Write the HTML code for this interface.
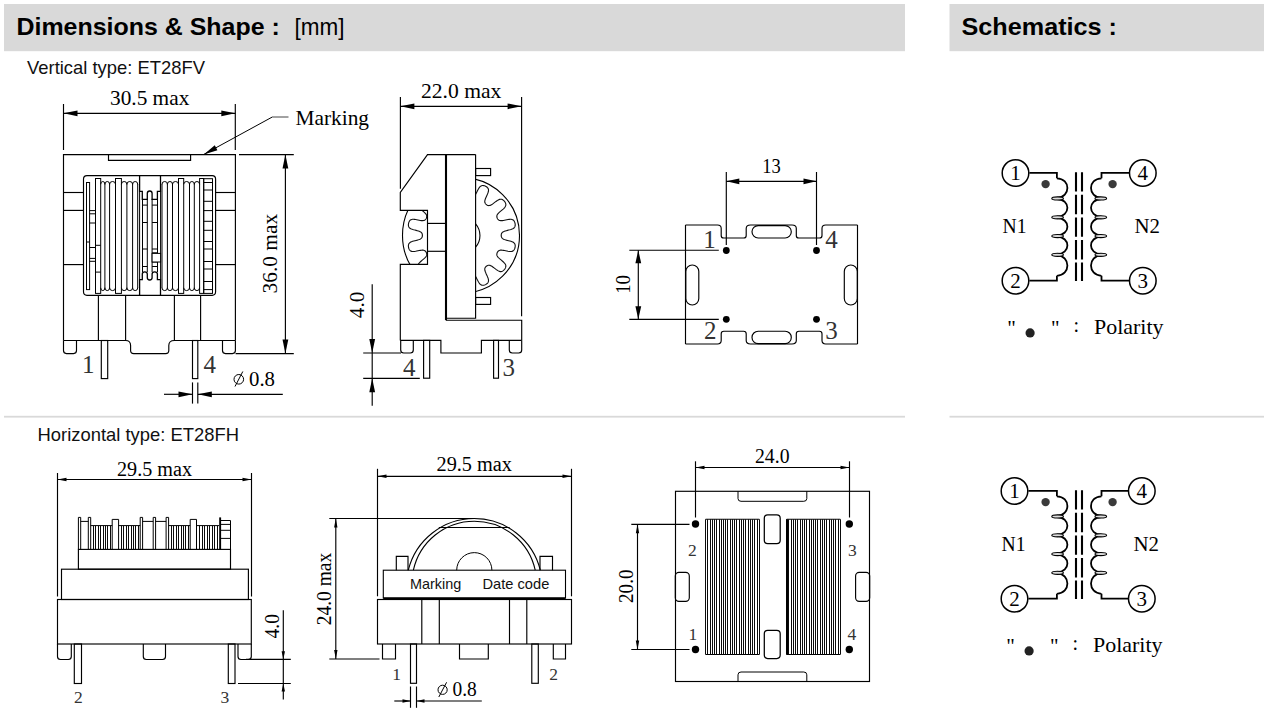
<!DOCTYPE html>
<html><head><meta charset="utf-8"><title>Dimensions</title>
<style>
html,body{margin:0;padding:0;background:#fff;}
body{width:1267px;height:712px;overflow:hidden;position:relative;font-family:"Liberation Sans",sans-serif;}
svg{position:absolute;left:0;top:0;display:block;}
</style></head><body>
<svg width="1267" height="712" viewBox="0 0 1267 712">
<rect x="4" y="4" width="901" height="47.2" fill="#d9d9d9"/>
<rect x="949.5" y="4" width="314.5" height="47.2" fill="#d9d9d9"/>
<rect x="4" y="415.8" width="901" height="1.8" fill="#d9d9d9"/>
<rect x="949.5" y="415.8" width="314.5" height="1.8" fill="#d9d9d9"/>
<text x="16.5" y="34.5" font-family="Liberation Sans, serif" font-size="24.5" font-weight="bold" text-anchor="start" fill="#000" textLength="263.3" lengthAdjust="spacingAndGlyphs" >Dimensions &amp; Shape :</text>
<text x="294.6" y="34.5" font-family="Liberation Sans, serif" font-size="24.5" font-weight="normal" text-anchor="start" fill="#000" textLength="50" lengthAdjust="spacingAndGlyphs" >[mm]</text>
<text x="961.5" y="34.5" font-family="Liberation Sans, serif" font-size="24.5" font-weight="bold" text-anchor="start" fill="#000" textLength="155.5" lengthAdjust="spacingAndGlyphs" >Schematics :</text>
<text x="27" y="74.2" font-family="Liberation Sans, serif" font-size="18.2" font-weight="normal" text-anchor="start" fill="#111" textLength="178" lengthAdjust="spacingAndGlyphs" >Vertical type: ET28FV</text>
<text x="37.5" y="441.2" font-family="Liberation Sans, serif" font-size="18.2" font-weight="normal" text-anchor="start" fill="#111" textLength="201.5" lengthAdjust="spacingAndGlyphs" >Horizontal type: ET28FH</text>
<path d="M63.5,340.5 V154.6 H235.4 V340.5" stroke="#000" stroke-width="1.15" fill="none" />
<path d="M63.5,340.5 V350.6 Q63.5,353.6 66.5,353.6 H73.5 Q76.5,353.6 76.5,350.6 V340.5" stroke="#000" stroke-width="1.15" fill="none" />
<path d="M222.5,340.5 V350.6 Q222.5,353.6 225.5,353.6 H232.4 Q235.4,353.6 235.4,350.6 V340.5" stroke="#000" stroke-width="1.15" fill="none" />
<path d="M63.5,340.5 H125.6 Q130.6,340.5 130.6,345.5 V350.5 Q130.6,353.6 133.8,353.6 H165.6 Q168.8,353.6 168.8,350.5 V345.5 Q168.8,340.5 174.4,340.5 H235.4" stroke="#000" stroke-width="1.15" fill="none" />
<path d="M108.5,154.6 V160.3 H190.6 V154.6" stroke="#000" stroke-width="1.15" fill="none" />
<rect x="83.5" y="175.6" width="132.1" height="119.7" rx="3.5" stroke="#000" stroke-width="1.15" fill="none"/>
<line x1="63.5" y1="192.5" x2="83.5" y2="192.5" stroke="#000" stroke-width="1.15" />
<line x1="215.6" y1="192.5" x2="235.4" y2="192.5" stroke="#000" stroke-width="1.15" />
<line x1="63.5" y1="210.4" x2="83.5" y2="210.4" stroke="#000" stroke-width="1.15" />
<line x1="215.6" y1="210.4" x2="235.4" y2="210.4" stroke="#000" stroke-width="1.15" />
<line x1="63.5" y1="264.6" x2="83.5" y2="264.6" stroke="#000" stroke-width="1.15" />
<line x1="215.6" y1="264.6" x2="235.4" y2="264.6" stroke="#000" stroke-width="1.15" />
<line x1="98.4" y1="295.3" x2="98.4" y2="340.5" stroke="#000" stroke-width="1.15" />
<line x1="125.6" y1="295.3" x2="125.6" y2="340.5" stroke="#000" stroke-width="1.15" />
<line x1="174.4" y1="295.3" x2="174.4" y2="340.5" stroke="#000" stroke-width="1.15" />
<line x1="200.6" y1="295.3" x2="200.6" y2="340.5" stroke="#000" stroke-width="1.15" />
<rect x="101.3" y="340.5" width="6.4" height="38.1" rx="0" stroke="#000" stroke-width="1.15" fill="none"/>
<rect x="192.5" y="340.5" width="5.3" height="38.1" rx="0" stroke="#000" stroke-width="1.15" fill="none"/>
<rect x="86.5" y="182.5" width="3.1" height="107.1" rx="0" stroke="#000" stroke-width="1.0" fill="none"/>
<line x1="86.5" y1="242" x2="89.6" y2="242" stroke="#000" stroke-width="1.0" />
<line x1="89.6" y1="210.6" x2="95.5" y2="210.6" stroke="#000" stroke-width="1.0" />
<line x1="89.6" y1="213.8" x2="95.5" y2="213.8" stroke="#000" stroke-width="1.0" />
<line x1="89.6" y1="223" x2="95.5" y2="223" stroke="#000" stroke-width="1.0" />
<line x1="89.6" y1="247.5" x2="95.5" y2="247.5" stroke="#000" stroke-width="1.0" />
<line x1="89.6" y1="258.4" x2="95.5" y2="258.4" stroke="#000" stroke-width="1.0" />
<line x1="89.6" y1="261.3" x2="95.5" y2="261.3" stroke="#000" stroke-width="1.0" />
<rect x="95.5" y="178.5" width="5.2" height="114.9" rx="0" stroke="#000" stroke-width="1.0" fill="none"/>
<rect x="115.5" y="178.5" width="5.9" height="114.9" rx="0" stroke="#000" stroke-width="1.0" fill="none"/>
<rect x="178.5" y="178.5" width="5.2" height="114.9" rx="0" stroke="#000" stroke-width="1.0" fill="none"/>
<line x1="95.5" y1="245.3" x2="100.7" y2="245.3" stroke="#000" stroke-width="1.0" />
<line x1="95.5" y1="272.1" x2="100.7" y2="272.1" stroke="#000" stroke-width="1.0" />
<rect x="199.6" y="178.5" width="4.1" height="114.9" rx="0" stroke="#000" stroke-width="1.0" fill="none"/>
<rect x="203.7" y="178.7" width="8.8" height="114.7" rx="0" stroke="#000" stroke-width="1.0" fill="none"/>
<line x1="203.7" y1="182.5" x2="212.5" y2="182.5" stroke="#000" stroke-width="1.0" />
<line x1="203.7" y1="190" x2="212.5" y2="190" stroke="#000" stroke-width="1.0" />
<line x1="203.7" y1="201.3" x2="212.5" y2="201.3" stroke="#000" stroke-width="1.0" />
<line x1="203.7" y1="210.6" x2="212.5" y2="210.6" stroke="#000" stroke-width="1.0" />
<line x1="203.7" y1="221.3" x2="212.5" y2="221.3" stroke="#000" stroke-width="1.0" />
<line x1="203.7" y1="230.3" x2="212.5" y2="230.3" stroke="#000" stroke-width="1.0" />
<line x1="203.7" y1="241.5" x2="212.5" y2="241.5" stroke="#000" stroke-width="1.0" />
<line x1="203.7" y1="249" x2="212.5" y2="249" stroke="#000" stroke-width="1.0" />
<line x1="203.7" y1="261.5" x2="212.5" y2="261.5" stroke="#000" stroke-width="1.0" />
<line x1="203.7" y1="269" x2="212.5" y2="269" stroke="#000" stroke-width="1.0" />
<line x1="203.7" y1="281.5" x2="212.5" y2="281.5" stroke="#000" stroke-width="1.0" />
<line x1="203.7" y1="289.6" x2="212.5" y2="289.6" stroke="#000" stroke-width="1.0" />
<path d="M100.7,184.3 Q100.7,181.5 102.80000000000001,181.5 Q104.9,181.5 104.9,184.3" stroke="#000" stroke-width="1.0" fill="none" />
<path d="M100.7,287.8 Q100.7,290.6 102.80000000000001,290.6 Q104.9,290.6 104.9,287.8" stroke="#000" stroke-width="1.0" fill="none" />
<path d="M104.9,184.3 Q104.9,181.5 107.25,181.5 Q109.6,181.5 109.6,184.3" stroke="#000" stroke-width="1.0" fill="none" />
<path d="M104.9,287.8 Q104.9,290.6 107.25,290.6 Q109.6,290.6 109.6,287.8" stroke="#000" stroke-width="1.0" fill="none" />
<path d="M109.6,184.3 Q109.6,181.5 112.55,181.5 Q115.5,181.5 115.5,184.3" stroke="#000" stroke-width="1.0" fill="none" />
<path d="M109.6,287.8 Q109.6,290.6 112.55,290.6 Q115.5,290.6 115.5,287.8" stroke="#000" stroke-width="1.0" fill="none" />
<line x1="104.9" y1="183.8" x2="104.9" y2="288.3" stroke="#000" stroke-width="1.0" />
<line x1="109.6" y1="183.8" x2="109.6" y2="288.3" stroke="#000" stroke-width="1.0" />
<path d="M121.4,184.3 Q121.4,181.5 124.15,181.5 Q126.9,181.5 126.9,184.3" stroke="#000" stroke-width="1.0" fill="none" />
<path d="M121.4,287.8 Q121.4,290.6 124.15,290.6 Q126.9,290.6 126.9,287.8" stroke="#000" stroke-width="1.0" fill="none" />
<path d="M126.9,184.3 Q126.9,181.5 129.75,181.5 Q132.6,181.5 132.6,184.3" stroke="#000" stroke-width="1.0" fill="none" />
<path d="M126.9,287.8 Q126.9,290.6 129.75,290.6 Q132.6,290.6 132.6,287.8" stroke="#000" stroke-width="1.0" fill="none" />
<path d="M132.6,184.3 Q132.6,181.5 135.14999999999998,181.5 Q137.7,181.5 137.7,184.3" stroke="#000" stroke-width="1.0" fill="none" />
<path d="M132.6,287.8 Q132.6,290.6 135.14999999999998,290.6 Q137.7,290.6 137.7,287.8" stroke="#000" stroke-width="1.0" fill="none" />
<line x1="126.9" y1="183.8" x2="126.9" y2="288.3" stroke="#000" stroke-width="1.0" />
<line x1="132.6" y1="183.8" x2="132.6" y2="288.3" stroke="#000" stroke-width="1.0" />
<line x1="137.7" y1="184" x2="137.7" y2="288" stroke="#000" stroke-width="1.0" />
<path d="M162,184.3 Q162,181.5 164.7,181.5 Q167.4,181.5 167.4,184.3" stroke="#000" stroke-width="1.0" fill="none" />
<path d="M162,287.8 Q162,290.6 164.7,290.6 Q167.4,290.6 167.4,287.8" stroke="#000" stroke-width="1.0" fill="none" />
<path d="M167.4,184.3 Q167.4,181.5 169.95,181.5 Q172.5,181.5 172.5,184.3" stroke="#000" stroke-width="1.0" fill="none" />
<path d="M167.4,287.8 Q167.4,290.6 169.95,290.6 Q172.5,290.6 172.5,287.8" stroke="#000" stroke-width="1.0" fill="none" />
<path d="M172.5,184.3 Q172.5,181.5 175.5,181.5 Q178.5,181.5 178.5,184.3" stroke="#000" stroke-width="1.0" fill="none" />
<path d="M172.5,287.8 Q172.5,290.6 175.5,290.6 Q178.5,290.6 178.5,287.8" stroke="#000" stroke-width="1.0" fill="none" />
<line x1="167.4" y1="183.8" x2="167.4" y2="288.3" stroke="#000" stroke-width="1.0" />
<line x1="172.5" y1="183.8" x2="172.5" y2="288.3" stroke="#000" stroke-width="1.0" />
<line x1="162" y1="184" x2="162" y2="288" stroke="#000" stroke-width="1.0" />
<path d="M183.7,184.3 Q183.7,181.5 186.6,181.5 Q189.5,181.5 189.5,184.3" stroke="#000" stroke-width="1.0" fill="none" />
<path d="M183.7,287.8 Q183.7,290.6 186.6,290.6 Q189.5,290.6 189.5,287.8" stroke="#000" stroke-width="1.0" fill="none" />
<path d="M189.5,184.3 Q189.5,181.5 191.9,181.5 Q194.3,181.5 194.3,184.3" stroke="#000" stroke-width="1.0" fill="none" />
<path d="M189.5,287.8 Q189.5,290.6 191.9,290.6 Q194.3,290.6 194.3,287.8" stroke="#000" stroke-width="1.0" fill="none" />
<path d="M194.3,184.3 Q194.3,181.5 196.95,181.5 Q199.6,181.5 199.6,184.3" stroke="#000" stroke-width="1.0" fill="none" />
<path d="M194.3,287.8 Q194.3,290.6 196.95,290.6 Q199.6,290.6 199.6,287.8" stroke="#000" stroke-width="1.0" fill="none" />
<line x1="189.5" y1="183.8" x2="189.5" y2="288.3" stroke="#000" stroke-width="1.0" />
<line x1="194.3" y1="183.8" x2="194.3" y2="288.3" stroke="#000" stroke-width="1.0" />
<path d="M139.6,175.6 V191.3 H142.3 V199.4 H147.3 V193.5 Q147.3,191 149.7,191 Q152.1,191 152.1,193.5 V199.4 H157.4 V191.3 H160.5 V175.6" stroke="#000" stroke-width="1.3" fill="none" />
<path d="M139.6,295.3 V279.6 H142.3 V274 Q142.3,271.8 144.8,271.8 Q147.3,271.8 147.3,274 V277.5 Q147.3,280 149.7,280 Q152.1,280 152.1,277.5 V274 Q152.1,271.8 154.7,271.8 Q157.4,271.8 157.4,274 V279.6 H160.5 V295.3" stroke="#000" stroke-width="1.3" fill="none" />
<line x1="142.5" y1="198.8" x2="142.5" y2="272" stroke="#000" stroke-width="1.0" />
<line x1="147.3" y1="198.8" x2="147.3" y2="272" stroke="#000" stroke-width="1.0" />
<line x1="152.1" y1="198.8" x2="152.1" y2="272" stroke="#000" stroke-width="1.0" />
<line x1="157.5" y1="198.8" x2="157.5" y2="272" stroke="#000" stroke-width="1.0" />
<line x1="139.6" y1="191.3" x2="139.6" y2="279.6" stroke="#000" stroke-width="1.0" />
<line x1="160.6" y1="191.3" x2="160.6" y2="279.6" stroke="#000" stroke-width="1.0" />
<line x1="142.5" y1="205.1" x2="147.3" y2="205.1" stroke="#000" stroke-width="1.0" />
<line x1="142.5" y1="222.5" x2="147.3" y2="222.5" stroke="#000" stroke-width="1.0" />
<line x1="142.5" y1="249" x2="147.3" y2="249" stroke="#000" stroke-width="1.0" />
<line x1="142.5" y1="266.5" x2="147.3" y2="266.5" stroke="#000" stroke-width="1.0" />
<line x1="152.1" y1="205.1" x2="157.5" y2="205.1" stroke="#000" stroke-width="1.0" />
<line x1="152.1" y1="222.5" x2="157.5" y2="222.5" stroke="#000" stroke-width="1.0" />
<line x1="152.1" y1="249" x2="157.5" y2="249" stroke="#000" stroke-width="1.0" />
<line x1="152.1" y1="252.8" x2="157.5" y2="252.8" stroke="#000" stroke-width="1.0" />
<line x1="152.1" y1="262" x2="157.5" y2="262" stroke="#000" stroke-width="1.0" />
<line x1="152.1" y1="266.5" x2="157.5" y2="266.5" stroke="#000" stroke-width="1.0" />
<rect x="152.1" y="253.4" width="8.5" height="8.6" rx="0" stroke="#000" stroke-width="1.0" fill="#fff"/>
<line x1="63.5" y1="104" x2="63.5" y2="150" stroke="#000" stroke-width="1.15" />
<line x1="235.3" y1="104" x2="235.3" y2="150" stroke="#000" stroke-width="1.15" />
<line x1="63.5" y1="113.3" x2="235.3" y2="113.3" stroke="#000" stroke-width="1.15" />
<polygon points="63.5,113.3 77.5,110.4 77.5,116.2" fill="#000"/>
<polygon points="235.3,113.3 221.3,110.4 221.3,116.2" fill="#000"/>
<text x="110" y="104.5" font-family="Liberation Serif, serif" font-size="21" font-weight="normal" text-anchor="start" fill="#000" textLength="79.3" lengthAdjust="spacingAndGlyphs" >30.5 max</text>
<line x1="272.3" y1="117" x2="288.5" y2="117" stroke="#444" stroke-width="1" />
<line x1="272.3" y1="117" x2="203.8" y2="154.4" stroke="#000" stroke-width="1" />
<polygon points="203.8,154.4 214.8,145.2 217.4,150.2" fill="#000"/>
<text x="295.5" y="125.4" font-family="Liberation Serif, serif" font-size="21" font-weight="normal" text-anchor="start" fill="#000" textLength="73.5" lengthAdjust="spacingAndGlyphs" >Marking</text>
<line x1="239" y1="154.6" x2="293.8" y2="154.6" stroke="#000" stroke-width="1.15" />
<line x1="235.6" y1="353.6" x2="293.8" y2="353.6" stroke="#000" stroke-width="1.15" />
<line x1="285.4" y1="154.6" x2="285.4" y2="353.6" stroke="#000" stroke-width="1.15" />
<polygon points="285.4,154.6 282.5,168.6 288.3,168.6" fill="#000"/>
<polygon points="285.4,353.6 282.5,339.6 288.3,339.6" fill="#000"/>
<text x="277" y="293.4" font-family="Liberation Serif, serif" font-size="21" font-weight="normal" text-anchor="start" fill="#000" textLength="79.5" lengthAdjust="spacingAndGlyphs" transform="rotate(-90 277 293.4)" >36.0 max</text>
<text x="82" y="373" font-family="Liberation Serif, serif" font-size="25" font-weight="normal" text-anchor="start" fill="#333" >1</text>
<text x="203.5" y="373" font-family="Liberation Serif, serif" font-size="25" font-weight="normal" text-anchor="start" fill="#333" >4</text>
<line x1="192.5" y1="382.4" x2="192.5" y2="403.6" stroke="#000" stroke-width="1.15" />
<line x1="197.8" y1="382.4" x2="197.8" y2="403.6" stroke="#000" stroke-width="1.15" />
<line x1="164" y1="394.3" x2="192.5" y2="394.3" stroke="#000" stroke-width="1.15" />
<line x1="197.8" y1="394.3" x2="282.8" y2="394.3" stroke="#000" stroke-width="1.15" />
<polygon points="192.5,394.3 178.5,391.4 178.5,397.2" fill="#000"/>
<polygon points="197.8,394.3 211.8,391.4 211.8,397.2" fill="#000"/>
<circle cx="238.8" cy="379.3" r="4.8" fill="none" stroke="#000" stroke-width="1"/>
<line x1="235" y1="386.5" x2="242.8" y2="371.5" stroke="#000" stroke-width="1" />
<text x="249" y="385.8" font-family="Liberation Serif, serif" font-size="21" font-weight="normal" text-anchor="start" fill="#000" textLength="26" lengthAdjust="spacingAndGlyphs" >0.8</text>
<defs><clipPath id="cR"><rect x="475.6" y="150" width="60" height="170"/></clipPath><clipPath id="cL"><rect x="395" y="210.4" width="32.5" height="54"/></clipPath></defs>
<g clip-path="url(#cR)"><circle cx="461.8" cy="235.4" r="57.7" fill="none" stroke="#000" stroke-width="1.1"/><path d="M501.20,235.40 L501.23,235.95 L501.31,236.49 L501.46,237.01 L501.68,237.50 L501.99,237.97 L502.39,238.40 L502.92,238.79 L503.57,239.16 L504.36,239.49 L505.29,239.81 L506.34,240.11 L507.49,240.41 L508.67,240.71 L509.85,241.01 L510.97,241.34 L511.98,241.69 L512.86,242.08 L513.58,242.52 L514.16,243.02 L514.61,243.57 L514.92,244.17 L515.11,244.83 L515.21,245.53 L515.21,246.27 L515.13,247.02 L514.98,247.76 L514.76,248.48 L514.46,249.17 L514.10,249.79 L513.67,250.34 L513.16,250.79 L512.57,251.14 L511.88,251.38 L511.08,251.51 L510.17,251.53 L509.14,251.45 L508.03,251.28 L506.85,251.06 L505.65,250.82 L504.47,250.58 L503.35,250.37 L502.33,250.22 L501.42,250.15 L500.62,250.15 L499.94,250.25 L499.35,250.42 L498.84,250.68 L498.40,251.00 L498.02,251.38 L497.69,251.82 L497.40,252.28 L497.17,252.78 L496.99,253.30 L496.87,253.83 L496.82,254.36 L496.85,254.91 L496.98,255.47 L497.23,256.04 L497.60,256.64 L498.11,257.27 L498.76,257.94 L499.53,258.65 L500.40,259.40 L501.33,260.18 L502.27,260.97 L503.16,261.75 L503.97,262.52 L504.65,263.26 L505.18,263.98 L505.56,264.69 L505.78,265.38 L505.86,266.06 L505.80,266.74 L505.63,267.42 L505.35,268.08 L504.99,268.74 L504.56,269.36 L504.06,269.94 L503.52,270.45 L502.94,270.90 L502.33,271.25 L501.68,271.49 L501.01,271.60 L500.30,271.58 L499.55,271.41 L498.74,271.10 L497.88,270.64 L496.97,270.05 L496.01,269.37 L495.03,268.63 L494.06,267.89 L493.13,267.19 L492.24,266.57 L491.42,266.06 L490.68,265.67 L489.99,265.40 L489.36,265.25 L488.78,265.22 L488.23,265.28 L487.71,265.43 L487.22,265.65 L486.75,265.93 L486.30,266.25 L485.90,266.62 L485.54,267.03 L485.23,267.48 L484.99,267.96 L484.83,268.50 L484.76,269.09 L484.79,269.76 L484.93,270.51 L485.18,271.35 L485.52,272.29 L485.95,273.31 L486.44,274.40 L486.95,275.52 L487.44,276.63 L487.87,277.69 L488.21,278.69 L488.43,279.61 L488.52,280.44 L488.48,281.19 L488.31,281.87 L488.01,282.48 L487.60,283.04 L487.10,283.54 L486.52,284.00 L485.88,284.39 L485.19,284.73 L484.48,284.99 L483.77,285.18 L483.06,285.27 L482.37,285.26 L481.70,285.13 L481.06,284.86 L480.44,284.45 L479.84,283.88 L479.26,283.16 L478.69,282.29 L478.13,281.30 L477.56,280.23 L477.01,279.14 L476.46,278.07 L475.93,277.08 L475.41,276.21 L474.90,275.47 L474.40,274.87 L473.90,274.42 L473.39,274.08 L472.87,273.86 L472.35,273.73 L471.81,273.68 L471.26,273.70 L470.72,273.78 L470.19,273.91 L469.67,274.10 L469.19,274.34 L468.74,274.65 L468.34,275.03 L468.00,275.49 L467.71,276.06 L467.49,276.74 L467.32,277.55 L467.20,278.49 L467.13,279.55 L467.09,280.71 L467.07,281.93 L467.03,283.15 L466.98,284.33 L466.87,285.43 L466.71,286.41 L466.46,287.25 L466.14,287.97 L465.72,288.55 L465.22,289.02 L464.65,289.39 L464.00,289.66 L463.30,289.85 L462.56,289.96 L461.80,290.00 L461.04,289.96 L460.30,289.85 L459.60,289.66 L458.95,289.39 L458.38,289.02 L457.88,288.55 L457.46,287.97 L457.14,287.25 L456.89,286.41 L456.73,285.43 L456.62,284.33 L456.57,283.15 L456.53,281.93 L456.51,280.71 L456.47,279.55 L456.40,278.49 L456.28,277.55 L456.11,276.74 L455.89,276.06 L455.60,275.49 L455.26,275.03 L454.86,274.65 L454.41,274.34 L453.93,274.10 L453.41,273.91 L452.88,273.78 L452.34,273.70 L451.79,273.68 L451.25,273.73 L450.73,273.86 L450.21,274.08 L449.70,274.42 L449.20,274.87 L448.70,275.47 L448.19,276.21 L447.67,277.08 L447.14,278.07 L446.59,279.14 L446.04,280.23 L445.47,281.30 L444.91,282.29 L444.34,283.16 L443.76,283.88 L443.16,284.45 L442.54,284.86 L441.90,285.13 L441.23,285.26 L440.54,285.27 L439.83,285.18 L439.12,284.99 L438.41,284.73 L437.72,284.39 L437.08,284.00 L436.50,283.54 L436.00,283.04 L435.59,282.48 L435.29,281.87 L435.12,281.19 L435.08,280.44 L435.17,279.61 L435.39,278.69 L435.73,277.69 L436.16,276.63 L436.65,275.52 L437.16,274.40 L437.65,273.31 L438.08,272.29 L438.42,271.35 L438.67,270.51 L438.81,269.76 L438.84,269.09 L438.77,268.50 L438.61,267.96 L438.37,267.48 L438.06,267.03 L437.70,266.62 L437.30,266.25 L436.85,265.93 L436.38,265.65 L435.89,265.43 L435.37,265.28 L434.82,265.22 L434.24,265.25 L433.61,265.40 L432.92,265.67 L432.18,266.06 L431.36,266.57 L430.47,267.19 L429.54,267.89 L428.57,268.63 L427.59,269.37 L426.63,270.05 L425.72,270.64 L424.86,271.10 L424.05,271.41 L423.30,271.58 L422.59,271.60 L421.92,271.49 L421.27,271.25 L420.66,270.90 L420.08,270.45 L419.54,269.94 L419.04,269.36 L418.61,268.74 L418.25,268.08 L417.97,267.42 L417.80,266.74 L417.74,266.06 L417.82,265.38 L418.04,264.69 L418.42,263.98 L418.95,263.26 L419.63,262.52 L420.44,261.75 L421.33,260.97 L422.27,260.18 L423.20,259.40 L424.07,258.65 L424.84,257.94 L425.49,257.27 L426.00,256.64 L426.37,256.04 L426.62,255.47 L426.75,254.91 L426.78,254.36 L426.73,253.83 L426.61,253.30 L426.43,252.78 L426.20,252.28 L425.91,251.82 L425.58,251.38 L425.20,251.00 L424.76,250.68 L424.25,250.42 L423.66,250.25 L422.98,250.15 L422.18,250.15 L421.27,250.22 L420.25,250.37 L419.13,250.58 L417.95,250.82 L416.75,251.06 L415.57,251.28 L414.46,251.45 L413.43,251.53 L412.52,251.51 L411.72,251.38 L411.03,251.14 L410.44,250.79 L409.93,250.34 L409.50,249.79 L409.14,249.17 L408.84,248.48 L408.62,247.76 L408.47,247.02 L408.39,246.27 L408.39,245.53 L408.49,244.83 L408.68,244.17 L408.99,243.57 L409.44,243.02 L410.02,242.52 L410.74,242.08 L411.62,241.69 L412.63,241.34 L413.75,241.01 L414.93,240.71 L416.11,240.41 L417.26,240.11 L418.31,239.81 L419.24,239.49 L420.03,239.16 L420.68,238.79 L421.21,238.40 L421.61,237.97 L421.92,237.50 L422.14,237.01 L422.29,236.49 L422.37,235.95 L422.40,235.40 L422.37,234.85 L422.29,234.31 L422.14,233.79 L421.92,233.30 L421.61,232.83 L421.21,232.40 L420.68,232.01 L420.03,231.64 L419.24,231.31 L418.31,230.99 L417.26,230.69 L416.11,230.39 L414.93,230.09 L413.75,229.79 L412.63,229.46 L411.62,229.11 L410.74,228.72 L410.02,228.28 L409.44,227.78 L408.99,227.23 L408.68,226.63 L408.49,225.97 L408.39,225.27 L408.39,224.53 L408.47,223.78 L408.62,223.04 L408.84,222.32 L409.14,221.63 L409.50,221.01 L409.93,220.46 L410.44,220.01 L411.03,219.66 L411.72,219.42 L412.52,219.29 L413.43,219.27 L414.46,219.35 L415.57,219.52 L416.75,219.74 L417.95,219.98 L419.13,220.22 L420.25,220.43 L421.27,220.58 L422.18,220.65 L422.98,220.65 L423.66,220.55 L424.25,220.38 L424.76,220.12 L425.20,219.80 L425.58,219.42 L425.91,218.98 L426.20,218.52 L426.43,218.02 L426.61,217.50 L426.73,216.97 L426.78,216.44 L426.75,215.89 L426.62,215.33 L426.37,214.76 L426.00,214.16 L425.49,213.53 L424.84,212.86 L424.07,212.15 L423.20,211.40 L422.27,210.62 L421.33,209.83 L420.44,209.05 L419.63,208.28 L418.95,207.54 L418.42,206.82 L418.04,206.11 L417.82,205.42 L417.74,204.74 L417.80,204.06 L417.97,203.38 L418.25,202.72 L418.61,202.06 L419.04,201.44 L419.54,200.86 L420.08,200.35 L420.66,199.90 L421.27,199.55 L421.92,199.31 L422.59,199.20 L423.30,199.22 L424.05,199.39 L424.86,199.70 L425.72,200.16 L426.63,200.75 L427.59,201.43 L428.57,202.17 L429.54,202.91 L430.47,203.61 L431.36,204.23 L432.18,204.74 L432.92,205.13 L433.61,205.40 L434.24,205.55 L434.82,205.58 L435.37,205.52 L435.89,205.37 L436.38,205.15 L436.85,204.87 L437.30,204.55 L437.70,204.18 L438.06,203.77 L438.37,203.32 L438.61,202.84 L438.77,202.30 L438.84,201.71 L438.81,201.04 L438.67,200.29 L438.42,199.45 L438.08,198.51 L437.65,197.49 L437.16,196.40 L436.65,195.28 L436.16,194.17 L435.73,193.11 L435.39,192.11 L435.17,191.19 L435.08,190.36 L435.12,189.61 L435.29,188.93 L435.59,188.32 L436.00,187.76 L436.50,187.26 L437.08,186.80 L437.72,186.41 L438.41,186.07 L439.12,185.81 L439.83,185.62 L440.54,185.53 L441.23,185.54 L441.90,185.67 L442.54,185.94 L443.16,186.35 L443.76,186.92 L444.34,187.64 L444.91,188.51 L445.47,189.50 L446.04,190.57 L446.59,191.66 L447.14,192.73 L447.67,193.72 L448.19,194.59 L448.70,195.33 L449.20,195.93 L449.70,196.38 L450.21,196.72 L450.73,196.94 L451.25,197.07 L451.79,197.12 L452.34,197.10 L452.88,197.02 L453.41,196.89 L453.93,196.70 L454.41,196.46 L454.86,196.15 L455.26,195.77 L455.60,195.31 L455.89,194.74 L456.11,194.06 L456.28,193.25 L456.40,192.31 L456.47,191.25 L456.51,190.09 L456.53,188.87 L456.57,187.65 L456.62,186.47 L456.73,185.37 L456.89,184.39 L457.14,183.55 L457.46,182.83 L457.88,182.25 L458.38,181.78 L458.95,181.41 L459.60,181.14 L460.30,180.95 L461.04,180.84 L461.80,180.80 L462.56,180.84 L463.30,180.95 L464.00,181.14 L464.65,181.41 L465.22,181.78 L465.72,182.25 L466.14,182.83 L466.46,183.55 L466.71,184.39 L466.87,185.37 L466.98,186.47 L467.03,187.65 L467.07,188.87 L467.09,190.09 L467.13,191.25 L467.20,192.31 L467.32,193.25 L467.49,194.06 L467.71,194.74 L468.00,195.31 L468.34,195.77 L468.74,196.15 L469.19,196.46 L469.67,196.70 L470.19,196.89 L470.72,197.02 L471.26,197.10 L471.81,197.12 L472.35,197.07 L472.87,196.94 L473.39,196.72 L473.90,196.38 L474.40,195.93 L474.90,195.33 L475.41,194.59 L475.93,193.72 L476.46,192.73 L477.01,191.66 L477.56,190.57 L478.13,189.50 L478.69,188.51 L479.26,187.64 L479.84,186.92 L480.44,186.35 L481.06,185.94 L481.70,185.67 L482.37,185.54 L483.06,185.53 L483.77,185.62 L484.48,185.81 L485.19,186.07 L485.88,186.41 L486.52,186.80 L487.10,187.26 L487.60,187.76 L488.01,188.32 L488.31,188.93 L488.48,189.61 L488.52,190.36 L488.43,191.19 L488.21,192.11 L487.87,193.11 L487.44,194.17 L486.95,195.28 L486.44,196.40 L485.95,197.49 L485.52,198.51 L485.18,199.45 L484.93,200.29 L484.79,201.04 L484.76,201.71 L484.83,202.30 L484.99,202.84 L485.23,203.32 L485.54,203.77 L485.90,204.18 L486.30,204.55 L486.75,204.87 L487.22,205.15 L487.71,205.37 L488.23,205.52 L488.78,205.58 L489.36,205.55 L489.99,205.40 L490.68,205.13 L491.42,204.74 L492.24,204.23 L493.13,203.61 L494.06,202.91 L495.03,202.17 L496.01,201.43 L496.97,200.75 L497.88,200.16 L498.74,199.70 L499.55,199.39 L500.30,199.22 L501.01,199.20 L501.68,199.31 L502.33,199.55 L502.94,199.90 L503.52,200.35 L504.06,200.86 L504.56,201.44 L504.99,202.06 L505.35,202.72 L505.63,203.38 L505.80,204.06 L505.86,204.74 L505.78,205.42 L505.56,206.11 L505.18,206.82 L504.65,207.54 L503.97,208.28 L503.16,209.05 L502.27,209.83 L501.33,210.62 L500.40,211.40 L499.53,212.15 L498.76,212.86 L498.11,213.53 L497.60,214.16 L497.23,214.76 L496.98,215.33 L496.85,215.89 L496.82,216.44 L496.87,216.97 L496.99,217.50 L497.17,218.02 L497.40,218.52 L497.69,218.98 L498.02,219.42 L498.40,219.80 L498.84,220.12 L499.35,220.38 L499.94,220.55 L500.62,220.65 L501.42,220.65 L502.33,220.58 L503.35,220.43 L504.47,220.22 L505.65,219.98 L506.85,219.74 L508.03,219.52 L509.14,219.35 L510.17,219.27 L511.08,219.29 L511.88,219.42 L512.57,219.66 L513.16,220.01 L513.67,220.46 L514.10,221.01 L514.46,221.63 L514.76,222.32 L514.98,223.04 L515.13,223.78 L515.21,224.53 L515.21,225.27 L515.11,225.97 L514.92,226.63 L514.61,227.23 L514.16,227.78 L513.58,228.28 L512.86,228.72 L511.98,229.11 L510.97,229.46 L509.85,229.79 L508.67,230.09 L507.49,230.39 L506.34,230.69 L505.29,230.99 L504.36,231.31 L503.57,231.64 L502.92,232.01 L502.39,232.40 L501.99,232.83 L501.68,233.30 L501.46,233.79 L501.31,234.31 L501.23,234.85 L501.20,235.40Z" fill="none" stroke="#111" stroke-width="1.1"/></g>
<g clip-path="url(#cL)"><circle cx="461.8" cy="235.4" r="59.300000000000004" fill="none" stroke="#000" stroke-width="1.1"/><path d="M501.20,235.40 L501.23,235.95 L501.31,236.49 L501.46,237.01 L501.68,237.50 L501.99,237.97 L502.39,238.40 L502.92,238.79 L503.57,239.16 L504.36,239.49 L505.29,239.81 L506.34,240.11 L507.49,240.41 L508.67,240.71 L509.85,241.01 L510.97,241.34 L511.98,241.69 L512.86,242.08 L513.58,242.52 L514.16,243.02 L514.61,243.57 L514.92,244.17 L515.11,244.83 L515.21,245.53 L515.21,246.27 L515.13,247.02 L514.98,247.76 L514.76,248.48 L514.46,249.17 L514.10,249.79 L513.67,250.34 L513.16,250.79 L512.57,251.14 L511.88,251.38 L511.08,251.51 L510.17,251.53 L509.14,251.45 L508.03,251.28 L506.85,251.06 L505.65,250.82 L504.47,250.58 L503.35,250.37 L502.33,250.22 L501.42,250.15 L500.62,250.15 L499.94,250.25 L499.35,250.42 L498.84,250.68 L498.40,251.00 L498.02,251.38 L497.69,251.82 L497.40,252.28 L497.17,252.78 L496.99,253.30 L496.87,253.83 L496.82,254.36 L496.85,254.91 L496.98,255.47 L497.23,256.04 L497.60,256.64 L498.11,257.27 L498.76,257.94 L499.53,258.65 L500.40,259.40 L501.33,260.18 L502.27,260.97 L503.16,261.75 L503.97,262.52 L504.65,263.26 L505.18,263.98 L505.56,264.69 L505.78,265.38 L505.86,266.06 L505.80,266.74 L505.63,267.42 L505.35,268.08 L504.99,268.74 L504.56,269.36 L504.06,269.94 L503.52,270.45 L502.94,270.90 L502.33,271.25 L501.68,271.49 L501.01,271.60 L500.30,271.58 L499.55,271.41 L498.74,271.10 L497.88,270.64 L496.97,270.05 L496.01,269.37 L495.03,268.63 L494.06,267.89 L493.13,267.19 L492.24,266.57 L491.42,266.06 L490.68,265.67 L489.99,265.40 L489.36,265.25 L488.78,265.22 L488.23,265.28 L487.71,265.43 L487.22,265.65 L486.75,265.93 L486.30,266.25 L485.90,266.62 L485.54,267.03 L485.23,267.48 L484.99,267.96 L484.83,268.50 L484.76,269.09 L484.79,269.76 L484.93,270.51 L485.18,271.35 L485.52,272.29 L485.95,273.31 L486.44,274.40 L486.95,275.52 L487.44,276.63 L487.87,277.69 L488.21,278.69 L488.43,279.61 L488.52,280.44 L488.48,281.19 L488.31,281.87 L488.01,282.48 L487.60,283.04 L487.10,283.54 L486.52,284.00 L485.88,284.39 L485.19,284.73 L484.48,284.99 L483.77,285.18 L483.06,285.27 L482.37,285.26 L481.70,285.13 L481.06,284.86 L480.44,284.45 L479.84,283.88 L479.26,283.16 L478.69,282.29 L478.13,281.30 L477.56,280.23 L477.01,279.14 L476.46,278.07 L475.93,277.08 L475.41,276.21 L474.90,275.47 L474.40,274.87 L473.90,274.42 L473.39,274.08 L472.87,273.86 L472.35,273.73 L471.81,273.68 L471.26,273.70 L470.72,273.78 L470.19,273.91 L469.67,274.10 L469.19,274.34 L468.74,274.65 L468.34,275.03 L468.00,275.49 L467.71,276.06 L467.49,276.74 L467.32,277.55 L467.20,278.49 L467.13,279.55 L467.09,280.71 L467.07,281.93 L467.03,283.15 L466.98,284.33 L466.87,285.43 L466.71,286.41 L466.46,287.25 L466.14,287.97 L465.72,288.55 L465.22,289.02 L464.65,289.39 L464.00,289.66 L463.30,289.85 L462.56,289.96 L461.80,290.00 L461.04,289.96 L460.30,289.85 L459.60,289.66 L458.95,289.39 L458.38,289.02 L457.88,288.55 L457.46,287.97 L457.14,287.25 L456.89,286.41 L456.73,285.43 L456.62,284.33 L456.57,283.15 L456.53,281.93 L456.51,280.71 L456.47,279.55 L456.40,278.49 L456.28,277.55 L456.11,276.74 L455.89,276.06 L455.60,275.49 L455.26,275.03 L454.86,274.65 L454.41,274.34 L453.93,274.10 L453.41,273.91 L452.88,273.78 L452.34,273.70 L451.79,273.68 L451.25,273.73 L450.73,273.86 L450.21,274.08 L449.70,274.42 L449.20,274.87 L448.70,275.47 L448.19,276.21 L447.67,277.08 L447.14,278.07 L446.59,279.14 L446.04,280.23 L445.47,281.30 L444.91,282.29 L444.34,283.16 L443.76,283.88 L443.16,284.45 L442.54,284.86 L441.90,285.13 L441.23,285.26 L440.54,285.27 L439.83,285.18 L439.12,284.99 L438.41,284.73 L437.72,284.39 L437.08,284.00 L436.50,283.54 L436.00,283.04 L435.59,282.48 L435.29,281.87 L435.12,281.19 L435.08,280.44 L435.17,279.61 L435.39,278.69 L435.73,277.69 L436.16,276.63 L436.65,275.52 L437.16,274.40 L437.65,273.31 L438.08,272.29 L438.42,271.35 L438.67,270.51 L438.81,269.76 L438.84,269.09 L438.77,268.50 L438.61,267.96 L438.37,267.48 L438.06,267.03 L437.70,266.62 L437.30,266.25 L436.85,265.93 L436.38,265.65 L435.89,265.43 L435.37,265.28 L434.82,265.22 L434.24,265.25 L433.61,265.40 L432.92,265.67 L432.18,266.06 L431.36,266.57 L430.47,267.19 L429.54,267.89 L428.57,268.63 L427.59,269.37 L426.63,270.05 L425.72,270.64 L424.86,271.10 L424.05,271.41 L423.30,271.58 L422.59,271.60 L421.92,271.49 L421.27,271.25 L420.66,270.90 L420.08,270.45 L419.54,269.94 L419.04,269.36 L418.61,268.74 L418.25,268.08 L417.97,267.42 L417.80,266.74 L417.74,266.06 L417.82,265.38 L418.04,264.69 L418.42,263.98 L418.95,263.26 L419.63,262.52 L420.44,261.75 L421.33,260.97 L422.27,260.18 L423.20,259.40 L424.07,258.65 L424.84,257.94 L425.49,257.27 L426.00,256.64 L426.37,256.04 L426.62,255.47 L426.75,254.91 L426.78,254.36 L426.73,253.83 L426.61,253.30 L426.43,252.78 L426.20,252.28 L425.91,251.82 L425.58,251.38 L425.20,251.00 L424.76,250.68 L424.25,250.42 L423.66,250.25 L422.98,250.15 L422.18,250.15 L421.27,250.22 L420.25,250.37 L419.13,250.58 L417.95,250.82 L416.75,251.06 L415.57,251.28 L414.46,251.45 L413.43,251.53 L412.52,251.51 L411.72,251.38 L411.03,251.14 L410.44,250.79 L409.93,250.34 L409.50,249.79 L409.14,249.17 L408.84,248.48 L408.62,247.76 L408.47,247.02 L408.39,246.27 L408.39,245.53 L408.49,244.83 L408.68,244.17 L408.99,243.57 L409.44,243.02 L410.02,242.52 L410.74,242.08 L411.62,241.69 L412.63,241.34 L413.75,241.01 L414.93,240.71 L416.11,240.41 L417.26,240.11 L418.31,239.81 L419.24,239.49 L420.03,239.16 L420.68,238.79 L421.21,238.40 L421.61,237.97 L421.92,237.50 L422.14,237.01 L422.29,236.49 L422.37,235.95 L422.40,235.40 L422.37,234.85 L422.29,234.31 L422.14,233.79 L421.92,233.30 L421.61,232.83 L421.21,232.40 L420.68,232.01 L420.03,231.64 L419.24,231.31 L418.31,230.99 L417.26,230.69 L416.11,230.39 L414.93,230.09 L413.75,229.79 L412.63,229.46 L411.62,229.11 L410.74,228.72 L410.02,228.28 L409.44,227.78 L408.99,227.23 L408.68,226.63 L408.49,225.97 L408.39,225.27 L408.39,224.53 L408.47,223.78 L408.62,223.04 L408.84,222.32 L409.14,221.63 L409.50,221.01 L409.93,220.46 L410.44,220.01 L411.03,219.66 L411.72,219.42 L412.52,219.29 L413.43,219.27 L414.46,219.35 L415.57,219.52 L416.75,219.74 L417.95,219.98 L419.13,220.22 L420.25,220.43 L421.27,220.58 L422.18,220.65 L422.98,220.65 L423.66,220.55 L424.25,220.38 L424.76,220.12 L425.20,219.80 L425.58,219.42 L425.91,218.98 L426.20,218.52 L426.43,218.02 L426.61,217.50 L426.73,216.97 L426.78,216.44 L426.75,215.89 L426.62,215.33 L426.37,214.76 L426.00,214.16 L425.49,213.53 L424.84,212.86 L424.07,212.15 L423.20,211.40 L422.27,210.62 L421.33,209.83 L420.44,209.05 L419.63,208.28 L418.95,207.54 L418.42,206.82 L418.04,206.11 L417.82,205.42 L417.74,204.74 L417.80,204.06 L417.97,203.38 L418.25,202.72 L418.61,202.06 L419.04,201.44 L419.54,200.86 L420.08,200.35 L420.66,199.90 L421.27,199.55 L421.92,199.31 L422.59,199.20 L423.30,199.22 L424.05,199.39 L424.86,199.70 L425.72,200.16 L426.63,200.75 L427.59,201.43 L428.57,202.17 L429.54,202.91 L430.47,203.61 L431.36,204.23 L432.18,204.74 L432.92,205.13 L433.61,205.40 L434.24,205.55 L434.82,205.58 L435.37,205.52 L435.89,205.37 L436.38,205.15 L436.85,204.87 L437.30,204.55 L437.70,204.18 L438.06,203.77 L438.37,203.32 L438.61,202.84 L438.77,202.30 L438.84,201.71 L438.81,201.04 L438.67,200.29 L438.42,199.45 L438.08,198.51 L437.65,197.49 L437.16,196.40 L436.65,195.28 L436.16,194.17 L435.73,193.11 L435.39,192.11 L435.17,191.19 L435.08,190.36 L435.12,189.61 L435.29,188.93 L435.59,188.32 L436.00,187.76 L436.50,187.26 L437.08,186.80 L437.72,186.41 L438.41,186.07 L439.12,185.81 L439.83,185.62 L440.54,185.53 L441.23,185.54 L441.90,185.67 L442.54,185.94 L443.16,186.35 L443.76,186.92 L444.34,187.64 L444.91,188.51 L445.47,189.50 L446.04,190.57 L446.59,191.66 L447.14,192.73 L447.67,193.72 L448.19,194.59 L448.70,195.33 L449.20,195.93 L449.70,196.38 L450.21,196.72 L450.73,196.94 L451.25,197.07 L451.79,197.12 L452.34,197.10 L452.88,197.02 L453.41,196.89 L453.93,196.70 L454.41,196.46 L454.86,196.15 L455.26,195.77 L455.60,195.31 L455.89,194.74 L456.11,194.06 L456.28,193.25 L456.40,192.31 L456.47,191.25 L456.51,190.09 L456.53,188.87 L456.57,187.65 L456.62,186.47 L456.73,185.37 L456.89,184.39 L457.14,183.55 L457.46,182.83 L457.88,182.25 L458.38,181.78 L458.95,181.41 L459.60,181.14 L460.30,180.95 L461.04,180.84 L461.80,180.80 L462.56,180.84 L463.30,180.95 L464.00,181.14 L464.65,181.41 L465.22,181.78 L465.72,182.25 L466.14,182.83 L466.46,183.55 L466.71,184.39 L466.87,185.37 L466.98,186.47 L467.03,187.65 L467.07,188.87 L467.09,190.09 L467.13,191.25 L467.20,192.31 L467.32,193.25 L467.49,194.06 L467.71,194.74 L468.00,195.31 L468.34,195.77 L468.74,196.15 L469.19,196.46 L469.67,196.70 L470.19,196.89 L470.72,197.02 L471.26,197.10 L471.81,197.12 L472.35,197.07 L472.87,196.94 L473.39,196.72 L473.90,196.38 L474.40,195.93 L474.90,195.33 L475.41,194.59 L475.93,193.72 L476.46,192.73 L477.01,191.66 L477.56,190.57 L478.13,189.50 L478.69,188.51 L479.26,187.64 L479.84,186.92 L480.44,186.35 L481.06,185.94 L481.70,185.67 L482.37,185.54 L483.06,185.53 L483.77,185.62 L484.48,185.81 L485.19,186.07 L485.88,186.41 L486.52,186.80 L487.10,187.26 L487.60,187.76 L488.01,188.32 L488.31,188.93 L488.48,189.61 L488.52,190.36 L488.43,191.19 L488.21,192.11 L487.87,193.11 L487.44,194.17 L486.95,195.28 L486.44,196.40 L485.95,197.49 L485.52,198.51 L485.18,199.45 L484.93,200.29 L484.79,201.04 L484.76,201.71 L484.83,202.30 L484.99,202.84 L485.23,203.32 L485.54,203.77 L485.90,204.18 L486.30,204.55 L486.75,204.87 L487.22,205.15 L487.71,205.37 L488.23,205.52 L488.78,205.58 L489.36,205.55 L489.99,205.40 L490.68,205.13 L491.42,204.74 L492.24,204.23 L493.13,203.61 L494.06,202.91 L495.03,202.17 L496.01,201.43 L496.97,200.75 L497.88,200.16 L498.74,199.70 L499.55,199.39 L500.30,199.22 L501.01,199.20 L501.68,199.31 L502.33,199.55 L502.94,199.90 L503.52,200.35 L504.06,200.86 L504.56,201.44 L504.99,202.06 L505.35,202.72 L505.63,203.38 L505.80,204.06 L505.86,204.74 L505.78,205.42 L505.56,206.11 L505.18,206.82 L504.65,207.54 L503.97,208.28 L503.16,209.05 L502.27,209.83 L501.33,210.62 L500.40,211.40 L499.53,212.15 L498.76,212.86 L498.11,213.53 L497.60,214.16 L497.23,214.76 L496.98,215.33 L496.85,215.89 L496.82,216.44 L496.87,216.97 L496.99,217.50 L497.17,218.02 L497.40,218.52 L497.69,218.98 L498.02,219.42 L498.40,219.80 L498.84,220.12 L499.35,220.38 L499.94,220.55 L500.62,220.65 L501.42,220.65 L502.33,220.58 L503.35,220.43 L504.47,220.22 L505.65,219.98 L506.85,219.74 L508.03,219.52 L509.14,219.35 L510.17,219.27 L511.08,219.29 L511.88,219.42 L512.57,219.66 L513.16,220.01 L513.67,220.46 L514.10,221.01 L514.46,221.63 L514.76,222.32 L514.98,223.04 L515.13,223.78 L515.21,224.53 L515.21,225.27 L515.11,225.97 L514.92,226.63 L514.61,227.23 L514.16,227.78 L513.58,228.28 L512.86,228.72 L511.98,229.11 L510.97,229.46 L509.85,229.79 L508.67,230.09 L507.49,230.39 L506.34,230.69 L505.29,230.99 L504.36,231.31 L503.57,231.64 L502.92,232.01 L502.39,232.40 L501.99,232.83 L501.68,233.30 L501.46,233.79 L501.31,234.31 L501.23,234.85 L501.20,235.40Z" fill="none" stroke="#111" stroke-width="1.1"/></g>
<path d="M475.6,223.8 A17.9,17.9 0 0 1 475.6,247.2" stroke="#000" stroke-width="1.1" fill="none" />
<path d="M475.6,154.6 H427.5 L400.3,192.5 V210.4 H427.5 V264.4 H400.3 V340.4" stroke="#000" stroke-width="1.15" fill="none" />
<line x1="446" y1="154.6" x2="446" y2="320.2" stroke="#000" stroke-width="2.1" />
<path d="M475.6,154.6 V318.2 H446" stroke="#000" stroke-width="1.15" fill="none" />
<path d="M446,320.2 H521.7 V340.4" stroke="#000" stroke-width="1.15" fill="none" />
<line x1="427.5" y1="223.4" x2="445" y2="223.4" stroke="#000" stroke-width="1.15" />
<line x1="427.5" y1="251.3" x2="445" y2="251.3" stroke="#000" stroke-width="1.15" />
<rect x="475.6" y="168.5" width="15.0" height="7.1" rx="0" stroke="#000" stroke-width="1.15" fill="none"/>
<rect x="475.6" y="297.5" width="15.0" height="6.9" rx="0" stroke="#000" stroke-width="1.15" fill="none"/>
<path d="M400.3,340.4 H440.9 V353 H481.4 V340.4 H521.7" stroke="#000" stroke-width="1.15" fill="none" />
<path d="M400.7,340.4 V350 Q400.7,353 403.7,353 H410.3 Q413.3,353 413.3,350 V340.4" stroke="#000" stroke-width="1.15" fill="none" />
<path d="M509.3,340.4 V350 Q509.3,353 512.3,353 H518.7 Q521.7,353 521.7,350 V340.4" stroke="#000" stroke-width="1.15" fill="none" />
<rect x="423.6" y="340.4" width="6.1" height="37.8" rx="0" stroke="#000" stroke-width="1.15" fill="none"/>
<rect x="493.6" y="340.4" width="4.9" height="37.8" rx="0" stroke="#000" stroke-width="1.15" fill="none"/>
<line x1="400.4" y1="97" x2="400.4" y2="188.8" stroke="#000" stroke-width="1.15" />
<line x1="521.6" y1="97" x2="521.6" y2="316.2" stroke="#000" stroke-width="1.15" />
<line x1="400.4" y1="106.3" x2="521.6" y2="106.3" stroke="#000" stroke-width="1.15" />
<polygon points="400.4,106.3 414.4,103.4 414.4,109.2" fill="#000"/>
<polygon points="521.6,106.3 507.6,103.4 507.6,109.2" fill="#000"/>
<text x="421" y="98.2" font-family="Liberation Serif, serif" font-size="21" font-weight="normal" text-anchor="start" fill="#000" textLength="80.3" lengthAdjust="spacingAndGlyphs" >22.0 max</text>
<line x1="372.2" y1="284.2" x2="372.2" y2="405.7" stroke="#000" stroke-width="1.15" />
<line x1="363.2" y1="353" x2="401" y2="353" stroke="#000" stroke-width="1.15" />
<line x1="363.2" y1="378.3" x2="419.8" y2="378.3" stroke="#000" stroke-width="1.15" />
<polygon points="372.2,353 369.3,339 375.1,339" fill="#000"/>
<polygon points="372.2,378.3 369.3,392.3 375.1,392.3" fill="#000"/>
<text x="364.2" y="318.2" font-family="Liberation Serif, serif" font-size="21" font-weight="normal" text-anchor="start" fill="#000" textLength="26.6" lengthAdjust="spacingAndGlyphs" transform="rotate(-90 364.2 318.2)" >4.0</text>
<text x="403" y="376" font-family="Liberation Serif, serif" font-size="25" font-weight="normal" text-anchor="start" fill="#333" >4</text>
<text x="502.5" y="376" font-family="Liberation Serif, serif" font-size="25" font-weight="normal" text-anchor="start" fill="#333" >3</text>
<path d="M685.5,225 H717.5 Q721.2,225 721.2,228.38 V235.4 Q721.2,238 723.8000000000001,238 H743.6 Q746.2,238 746.2,235.4 V228.38 Q746.2,225 750.5,225 H792 Q796.3,225 796.3,228.38 V235.4 Q796.3,238 798.9,238 H819.4 Q822,238 822,235.4 V228.38 Q822,225 825.7,225 H857.5" stroke="#000" stroke-width="1.15" fill="none" />
<path d="M685.5,344 H717.5 Q721.2,344 721.2,340.62 V333.8 Q721.2,331.2 723.8000000000001,331.2 H743.6 Q746.2,331.2 746.2,333.8 V340.62 Q746.2,344 750.5,344 H792 Q796.3,344 796.3,340.62 V333.8 Q796.3,331.2 798.9,331.2 H819.4 Q822,331.2 822,333.8 V340.62 Q822,344 825.7,344 H857.5" stroke="#000" stroke-width="1.15" fill="none" />
<line x1="685.5" y1="225" x2="685.5" y2="344" stroke="#000" stroke-width="1.15" />
<line x1="857.5" y1="225" x2="857.5" y2="344" stroke="#000" stroke-width="1.15" />
<rect x="752" y="225.6" width="39.3" height="12.4" rx="6.2" stroke="#000" stroke-width="1.15" fill="none"/>
<rect x="752" y="331.2" width="39.3" height="12.4" rx="6.2" stroke="#000" stroke-width="1.15" fill="none"/>
<rect x="685.8" y="265" width="13.0" height="40" rx="6.5" stroke="#000" stroke-width="1.15" fill="none"/>
<rect x="844.3" y="265" width="13.0" height="40" rx="6.5" stroke="#000" stroke-width="1.15" fill="none"/>
<circle cx="726.3" cy="250.5" r="3.4" fill="#000"/>
<circle cx="816.5" cy="250.5" r="3.4" fill="#000"/>
<circle cx="726.3" cy="319.3" r="3.4" fill="#000"/>
<circle cx="816.5" cy="319.3" r="3.4" fill="#000"/>
<line x1="726.3" y1="172" x2="726.3" y2="245" stroke="#000" stroke-width="1.15" />
<line x1="816.5" y1="172" x2="816.5" y2="245" stroke="#000" stroke-width="1.15" />
<line x1="726.3" y1="181.3" x2="816.5" y2="181.3" stroke="#000" stroke-width="1.15" />
<polygon points="726.3,181.3 739.3,178.4 739.3,184.2" fill="#000"/>
<polygon points="816.5,181.3 803.5,178.4 803.5,184.2" fill="#000"/>
<text x="762.3" y="173" font-family="Liberation Serif, serif" font-size="21" font-weight="normal" text-anchor="start" fill="#000" textLength="18.5" lengthAdjust="spacingAndGlyphs" >13</text>
<line x1="629.3" y1="250.2" x2="718.8" y2="250.2" stroke="#000" stroke-width="1.15" />
<line x1="629.3" y1="319.3" x2="718.8" y2="319.3" stroke="#000" stroke-width="1.15" />
<line x1="638.3" y1="250.2" x2="638.3" y2="319.3" stroke="#000" stroke-width="1.15" />
<polygon points="638.3,250.2 635.4,263.2 641.2,263.2" fill="#000"/>
<polygon points="638.3,319.3 635.4,306.3 641.2,306.3" fill="#000"/>
<text x="630.3" y="293.8" font-family="Liberation Serif, serif" font-size="21" font-weight="normal" text-anchor="start" fill="#000" textLength="18.8" lengthAdjust="spacingAndGlyphs" transform="rotate(-90 630.3 293.8)" >10</text>
<text x="703.3" y="248" font-family="Liberation Serif, serif" font-size="25" font-weight="normal" text-anchor="start" fill="#333" >1</text>
<text x="825.3" y="248" font-family="Liberation Serif, serif" font-size="25" font-weight="normal" text-anchor="start" fill="#333" >4</text>
<text x="704" y="338.8" font-family="Liberation Serif, serif" font-size="25" font-weight="normal" text-anchor="start" fill="#333" >2</text>
<text x="825.3" y="338.8" font-family="Liberation Serif, serif" font-size="25" font-weight="normal" text-anchor="start" fill="#333" >3</text>
<line x1="57.5" y1="473" x2="57.5" y2="596.5" stroke="#000" stroke-width="1.15" />
<line x1="251.5" y1="473" x2="251.5" y2="596.5" stroke="#000" stroke-width="1.15" />
<line x1="57.5" y1="479.5" x2="251.5" y2="479.5" stroke="#000" stroke-width="1.15" />
<polygon points="57.5,479.5 66.5,477.8 66.5,481.2" fill="#000"/>
<polygon points="251.5,479.5 242.5,477.8 242.5,481.2" fill="#000"/>
<text x="117" y="475.5" font-family="Liberation Serif, serif" font-size="20" font-weight="normal" text-anchor="start" fill="#000" textLength="75" lengthAdjust="spacingAndGlyphs" >29.5 max</text>
<rect x="57.5" y="599.5" width="193.8" height="44.5" rx="0" stroke="#000" stroke-width="1.15" fill="none"/>
<rect x="61.5" y="569.2" width="186.9" height="30.3" rx="0" stroke="#000" stroke-width="1.15" fill="none"/>
<rect x="78.4" y="549.4" width="152.1" height="19.8" rx="0" stroke="#000" stroke-width="1.15" fill="none"/>
<path d="M57.5,644 V656.5 Q57.5,659.5 60.5,659.5 H68.3 Q71.3,659.5 71.3,656.5 V644" stroke="#000" stroke-width="1.15" fill="none" />
<path d="M143.3,644 V656.5 Q143.3,659.5 146.3,659.5 H162.5 Q165.5,659.5 165.5,656.5 V644" stroke="#000" stroke-width="1.15" fill="none" />
<path d="M238,644 V656.5 Q238,659.5 241,659.5 H248.3 Q251.3,659.5 251.3,656.5 V644" stroke="#000" stroke-width="1.15" fill="none" />
<rect x="74.3" y="644" width="7.2" height="39.5" rx="0" stroke="#000" stroke-width="1.15" fill="none"/>
<rect x="228.3" y="644" width="6.7" height="39.5" rx="0" stroke="#000" stroke-width="1.15" fill="none"/>
<path d="M78.4,549.4 V517.4 H80.7 V549.4" stroke="#000" stroke-width="1.0" fill="none" />
<path d="M88.3,549.4 V517.4 H90.7 V549.4" stroke="#000" stroke-width="1.0" fill="none" />
<path d="M140.2,549.4 V517.4 H142.6 V549.4" stroke="#000" stroke-width="1.0" fill="none" />
<path d="M153.2,549.4 V517.4 H155.6 V549.4" stroke="#000" stroke-width="1.0" fill="none" />
<path d="M166.1,549.4 V517.4 H168.6 V549.4" stroke="#000" stroke-width="1.0" fill="none" />
<line x1="80.7" y1="521.4" x2="88.3" y2="521.4" stroke="#000" stroke-width="1" />
<line x1="142.6" y1="521.4" x2="153.2" y2="521.4" stroke="#000" stroke-width="1" />
<line x1="155.6" y1="521.4" x2="166.1" y2="521.4" stroke="#000" stroke-width="1" />
<path d="M112.2,549.4 V519.4 H118.6 V549.4" stroke="#000" stroke-width="1.0" fill="none" />
<path d="M190.2,549.4 V519.4 H196.5 V549.4" stroke="#000" stroke-width="1.0" fill="none" />
<line x1="90.7" y1="525.6" x2="112.2" y2="525.6" stroke="#000" stroke-width="1" />
<rect x="93" y="525.6" width="1" height="23.8" fill="#0a0a0a"/>
<rect x="95" y="525.6" width="1" height="23.8" fill="#0a0a0a"/>
<rect x="98" y="525.6" width="1" height="23.8" fill="#0a0a0a"/>
<rect x="100" y="525.6" width="1" height="23.8" fill="#0a0a0a"/>
<rect x="103" y="525.6" width="1" height="23.8" fill="#0a0a0a"/>
<rect x="105" y="525.6" width="1" height="23.8" fill="#0a0a0a"/>
<rect x="107" y="525.6" width="1" height="23.8" fill="#0a0a0a"/>
<rect x="110" y="525.6" width="1" height="23.8" fill="#0a0a0a"/>
<line x1="118.6" y1="525.6" x2="140.2" y2="525.6" stroke="#000" stroke-width="1" />
<rect x="121" y="525.6" width="1" height="23.8" fill="#0a0a0a"/>
<rect x="123" y="525.6" width="1" height="23.8" fill="#0a0a0a"/>
<rect x="126" y="525.6" width="1" height="23.8" fill="#0a0a0a"/>
<rect x="128" y="525.6" width="1" height="23.8" fill="#0a0a0a"/>
<rect x="131" y="525.6" width="1" height="23.8" fill="#0a0a0a"/>
<rect x="133" y="525.6" width="1" height="23.8" fill="#0a0a0a"/>
<rect x="135" y="525.6" width="1" height="23.8" fill="#0a0a0a"/>
<rect x="138" y="525.6" width="1" height="23.8" fill="#0a0a0a"/>
<line x1="168.6" y1="525.6" x2="190.2" y2="525.6" stroke="#000" stroke-width="1" />
<rect x="171" y="525.6" width="1" height="23.8" fill="#0a0a0a"/>
<rect x="173" y="525.6" width="1" height="23.8" fill="#0a0a0a"/>
<rect x="176" y="525.6" width="1" height="23.8" fill="#0a0a0a"/>
<rect x="178" y="525.6" width="1" height="23.8" fill="#0a0a0a"/>
<rect x="181" y="525.6" width="1" height="23.8" fill="#0a0a0a"/>
<rect x="183" y="525.6" width="1" height="23.8" fill="#0a0a0a"/>
<rect x="185" y="525.6" width="1" height="23.8" fill="#0a0a0a"/>
<rect x="188" y="525.6" width="1" height="23.8" fill="#0a0a0a"/>
<line x1="196.5" y1="525.6" x2="219.2" y2="525.6" stroke="#000" stroke-width="1" />
<rect x="199" y="525.6" width="1" height="23.8" fill="#0a0a0a"/>
<rect x="202" y="525.6" width="1" height="23.8" fill="#0a0a0a"/>
<rect x="204" y="525.6" width="1" height="23.8" fill="#0a0a0a"/>
<rect x="207" y="525.6" width="1" height="23.8" fill="#0a0a0a"/>
<rect x="209" y="525.6" width="1" height="23.8" fill="#0a0a0a"/>
<rect x="212" y="525.6" width="1" height="23.8" fill="#0a0a0a"/>
<rect x="214" y="525.6" width="1" height="23.8" fill="#0a0a0a"/>
<rect x="217" y="525.6" width="1" height="23.8" fill="#0a0a0a"/>
<rect x="219.2" y="517.4" width="1.9" height="32.0" fill="#000"/>
<path d="M221,520.5 H230.5 V549.4" stroke="#000" stroke-width="1" fill="none" />
<line x1="221" y1="524.4" x2="230.5" y2="524.4" stroke="#000" stroke-width="1" />
<line x1="221" y1="530.3" x2="230.5" y2="530.3" stroke="#000" stroke-width="1" />
<line x1="221" y1="538.4" x2="230.5" y2="538.4" stroke="#000" stroke-width="1" />
<text x="74" y="702.6" font-family="Liberation Serif, serif" font-size="17.5" font-weight="normal" text-anchor="start" fill="#333" >2</text>
<text x="220.5" y="702.6" font-family="Liberation Serif, serif" font-size="17.5" font-weight="normal" text-anchor="start" fill="#333" >3</text>
<line x1="283.3" y1="610.3" x2="283.3" y2="699.5" stroke="#000" stroke-width="1.15" />
<line x1="246" y1="659.3" x2="290.8" y2="659.3" stroke="#000" stroke-width="1.15" />
<line x1="238" y1="683.5" x2="290.8" y2="683.5" stroke="#000" stroke-width="1.15" />
<polygon points="283.3,659.3 281.6,651.3 285.0,651.3" fill="#000"/>
<polygon points="283.3,683.5 281.6,691.5 285.0,691.5" fill="#000"/>
<text x="278.5" y="638.5" font-family="Liberation Serif, serif" font-size="20" font-weight="normal" text-anchor="start" fill="#000" textLength="24.5" lengthAdjust="spacingAndGlyphs" transform="rotate(-90 278.5 638.5)" >4.0</text>
<line x1="377.5" y1="468.8" x2="377.5" y2="596.3" stroke="#000" stroke-width="1.15" />
<line x1="571.5" y1="468.8" x2="571.5" y2="596.3" stroke="#000" stroke-width="1.15" />
<line x1="377.5" y1="476.3" x2="571.5" y2="476.3" stroke="#000" stroke-width="1.15" />
<polygon points="377.5,476.3 386.5,474.6 386.5,478.0" fill="#000"/>
<polygon points="571.5,476.3 562.5,474.6 562.5,478.0" fill="#000"/>
<text x="436.5" y="471.3" font-family="Liberation Serif, serif" font-size="20" font-weight="normal" text-anchor="start" fill="#000" textLength="75.5" lengthAdjust="spacingAndGlyphs" >29.5 max</text>
<path d="M408.28,570.2 A68,68 0 0 1 540.32,570.2" stroke="#000" stroke-width="1.1" fill="none" />
<path d="M413.36,570.2 A62.4,62.4 0 0 1 535.24,570.2" stroke="#000" stroke-width="1.1" fill="none" />
<line x1="438.8" y1="527.5" x2="509.6" y2="527.5" stroke="#000" stroke-width="1" />
<path d="M456.7,570.2 A17.6,17.6 0 0 1 491.9,570.2" stroke="#000" stroke-width="1" fill="none" />
<path d="M396.3,570.2 V556.3 H408 V570.2" stroke="#000" stroke-width="1.15" fill="none" />
<path d="M540,570.2 V556.3 H552.5 V570.2" stroke="#000" stroke-width="1.15" fill="none" />
<rect x="383.3" y="570.2" width="182.2" height="27.8" rx="0" stroke="#000" stroke-width="1.1" fill="none"/>
<line x1="383.3" y1="598.4" x2="565.5" y2="598.4" stroke="#000" stroke-width="1.6" />
<rect x="377.5" y="599.5" width="194.0" height="44.5" rx="0" stroke="#000" stroke-width="1.15" fill="none"/>
<line x1="421.8" y1="599.5" x2="421.8" y2="644" stroke="#000" stroke-width="1.15" />
<line x1="439.3" y1="599.5" x2="439.3" y2="644" stroke="#000" stroke-width="1.15" />
<line x1="509.5" y1="599.5" x2="509.5" y2="644" stroke="#000" stroke-width="1.15" />
<line x1="526.8" y1="599.5" x2="526.8" y2="644" stroke="#000" stroke-width="1.15" />
<path d="M382.5,644 V659 H395.5 V644" stroke="#000" stroke-width="1.15" fill="none" />
<path d="M459.5,644 V659 H488.3 V644" stroke="#000" stroke-width="1.15" fill="none" />
<path d="M553.3,644 V659 H565.5 V644" stroke="#000" stroke-width="1.15" fill="none" />
<rect x="410.5" y="644" width="6.0" height="39.3" rx="0" stroke="#000" stroke-width="1.15" fill="none"/>
<rect x="531.8" y="644" width="6.5" height="39.3" rx="0" stroke="#000" stroke-width="1.15" fill="none"/>
<text x="410" y="589.3" font-family="Liberation Sans, serif" font-size="14.6" font-weight="normal" text-anchor="start" fill="#111" textLength="51.3" lengthAdjust="spacingAndGlyphs" >Marking</text>
<text x="482.5" y="589.3" font-family="Liberation Sans, serif" font-size="14.6" font-weight="normal" text-anchor="start" fill="#111" textLength="66.8" lengthAdjust="spacingAndGlyphs" >Date code</text>
<text x="392.3" y="680.3" font-family="Liberation Serif, serif" font-size="17.5" font-weight="normal" text-anchor="start" fill="#333" >1</text>
<text x="549.3" y="680.3" font-family="Liberation Serif, serif" font-size="17.5" font-weight="normal" text-anchor="start" fill="#333" >2</text>
<line x1="329.3" y1="518.5" x2="474.3" y2="518.5" stroke="#000" stroke-width="1" />
<line x1="329.3" y1="659" x2="379.5" y2="659" stroke="#000" stroke-width="1.15" />
<line x1="335.8" y1="518.5" x2="335.8" y2="659" stroke="#000" stroke-width="1.15" />
<polygon points="335.8,518.5 334.1,527.5 337.5,527.5" fill="#000"/>
<polygon points="335.8,659 334.1,650 337.5,650" fill="#000"/>
<text x="331" y="625.3" font-family="Liberation Serif, serif" font-size="20" font-weight="normal" text-anchor="start" fill="#000" textLength="72.5" lengthAdjust="spacingAndGlyphs" transform="rotate(-90 331 625.3)" >24.0 max</text>
<line x1="410.5" y1="686.5" x2="410.5" y2="707.8" stroke="#000" stroke-width="1.15" />
<line x1="416.5" y1="686.5" x2="416.5" y2="707.8" stroke="#000" stroke-width="1.15" />
<line x1="394.3" y1="701" x2="410.5" y2="701" stroke="#000" stroke-width="1.15" />
<line x1="416.5" y1="701" x2="481.8" y2="701" stroke="#000" stroke-width="1.15" />
<polygon points="410.5,701 402.5,699.3 402.5,702.7" fill="#000"/>
<polygon points="416.5,701 424.5,699.3 424.5,702.7" fill="#000"/>
<circle cx="442.6" cy="689.8" r="4.6" fill="none" stroke="#000" stroke-width="1"/>
<line x1="438.8" y1="697" x2="446.6" y2="682.3" stroke="#000" stroke-width="1" />
<text x="452.5" y="696" font-family="Liberation Serif, serif" font-size="20" font-weight="normal" text-anchor="start" fill="#000" textLength="24.3" lengthAdjust="spacingAndGlyphs" >0.8</text>
<rect x="675.5" y="491.3" width="194.0" height="190.2" rx="0" stroke="#000" stroke-width="1.15" fill="none"/>
<path d="M738,491.3 V498.5 Q738,501.3 741,501.3 H803.8 Q806.8,501.3 806.8,498.5 V491.3" stroke="#000" stroke-width="1" fill="none" />
<path d="M738,681.5 V674.8 Q738,672 741,672 H803.8 Q806.8,672 806.8,674.8 V681.5" stroke="#000" stroke-width="1" fill="none" />
<rect x="764.3" y="514.8" width="15.9" height="28.8" rx="3.4" stroke="#000" stroke-width="1.25" fill="none"/>
<rect x="764.3" y="630.3" width="15.9" height="28.2" rx="3.4" stroke="#000" stroke-width="1.25" fill="none"/>
<rect x="675.3" y="572.4" width="14.0" height="29.0" rx="3.6" stroke="#000" stroke-width="1.15" fill="none"/>
<rect x="855.6" y="572.4" width="14.1" height="29.0" rx="3.6" stroke="#000" stroke-width="1.15" fill="none"/>
<path d="M705.6,519.3 H759.3 M705.6,654.5 H759.3" stroke="#000" stroke-width="1.1" fill="none" />
<rect x="705" y="519.3" width="1" height="135.2" fill="#0a0a0a"/>
<rect x="707" y="519.3" width="1" height="135.2" fill="#0a0a0a"/>
<rect x="710" y="519.3" width="1" height="135.2" fill="#0a0a0a"/>
<rect x="712" y="519.3" width="1" height="135.2" fill="#0a0a0a"/>
<rect x="714" y="519.3" width="1" height="135.2" fill="#0a0a0a"/>
<rect x="716" y="519.3" width="1" height="135.2" fill="#0a0a0a"/>
<rect x="719" y="519.3" width="1" height="135.2" fill="#0a0a0a"/>
<rect x="721" y="519.3" width="1" height="135.2" fill="#0a0a0a"/>
<rect x="723" y="519.3" width="1" height="135.2" fill="#0a0a0a"/>
<rect x="725" y="519.3" width="1" height="135.2" fill="#0a0a0a"/>
<rect x="727" y="519.3" width="1" height="135.2" fill="#0a0a0a"/>
<rect x="730" y="519.3" width="1" height="135.2" fill="#0a0a0a"/>
<rect x="732" y="519.3" width="1" height="135.2" fill="#0a0a0a"/>
<rect x="734" y="519.3" width="1" height="135.2" fill="#0a0a0a"/>
<rect x="736" y="519.3" width="1" height="135.2" fill="#0a0a0a"/>
<rect x="739" y="519.3" width="1" height="135.2" fill="#0a0a0a"/>
<rect x="741" y="519.3" width="1" height="135.2" fill="#0a0a0a"/>
<rect x="743" y="519.3" width="1" height="135.2" fill="#0a0a0a"/>
<rect x="745" y="519.3" width="1" height="135.2" fill="#0a0a0a"/>
<rect x="748" y="519.3" width="1" height="135.2" fill="#0a0a0a"/>
<rect x="750" y="519.3" width="1" height="135.2" fill="#0a0a0a"/>
<rect x="752" y="519.3" width="1" height="135.2" fill="#0a0a0a"/>
<rect x="754" y="519.3" width="1" height="135.2" fill="#0a0a0a"/>
<rect x="757" y="519.3" width="1" height="135.2" fill="#0a0a0a"/>
<rect x="759" y="519.3" width="1" height="135.2" fill="#0a0a0a"/>
<path d="M786.7,519.3 H840.3 M786.7,654.5 H840.3" stroke="#000" stroke-width="1.1" fill="none" />
<rect x="786" y="519.3" width="1" height="135.2" fill="#0a0a0a"/>
<rect x="788" y="519.3" width="1" height="135.2" fill="#0a0a0a"/>
<rect x="791" y="519.3" width="1" height="135.2" fill="#0a0a0a"/>
<rect x="793" y="519.3" width="1" height="135.2" fill="#0a0a0a"/>
<rect x="795" y="519.3" width="1" height="135.2" fill="#0a0a0a"/>
<rect x="797" y="519.3" width="1" height="135.2" fill="#0a0a0a"/>
<rect x="800" y="519.3" width="1" height="135.2" fill="#0a0a0a"/>
<rect x="802" y="519.3" width="1" height="135.2" fill="#0a0a0a"/>
<rect x="804" y="519.3" width="1" height="135.2" fill="#0a0a0a"/>
<rect x="806" y="519.3" width="1" height="135.2" fill="#0a0a0a"/>
<rect x="809" y="519.3" width="1" height="135.2" fill="#0a0a0a"/>
<rect x="811" y="519.3" width="1" height="135.2" fill="#0a0a0a"/>
<rect x="813" y="519.3" width="1" height="135.2" fill="#0a0a0a"/>
<rect x="815" y="519.3" width="1" height="135.2" fill="#0a0a0a"/>
<rect x="817" y="519.3" width="1" height="135.2" fill="#0a0a0a"/>
<rect x="820" y="519.3" width="1" height="135.2" fill="#0a0a0a"/>
<rect x="822" y="519.3" width="1" height="135.2" fill="#0a0a0a"/>
<rect x="824" y="519.3" width="1" height="135.2" fill="#0a0a0a"/>
<rect x="826" y="519.3" width="1" height="135.2" fill="#0a0a0a"/>
<rect x="829" y="519.3" width="1" height="135.2" fill="#0a0a0a"/>
<rect x="831" y="519.3" width="1" height="135.2" fill="#0a0a0a"/>
<rect x="833" y="519.3" width="1" height="135.2" fill="#0a0a0a"/>
<rect x="835" y="519.3" width="1" height="135.2" fill="#0a0a0a"/>
<rect x="838" y="519.3" width="1" height="135.2" fill="#0a0a0a"/>
<rect x="840" y="519.3" width="1" height="135.2" fill="#0a0a0a"/>
<rect x="786" y="519.3" width="2" height="135.2" fill="#000"/>
<circle cx="695.5" cy="524" r="3.7" fill="#000"/>
<circle cx="849.3" cy="524" r="3.7" fill="#000"/>
<circle cx="695.5" cy="649.5" r="3.7" fill="#000"/>
<circle cx="849.3" cy="649.5" r="3.7" fill="#000"/>
<line x1="695.5" y1="461.3" x2="695.5" y2="517.5" stroke="#000" stroke-width="1.15" />
<line x1="849.5" y1="461.3" x2="849.5" y2="517.5" stroke="#000" stroke-width="1.15" />
<line x1="695.5" y1="467.5" x2="849.5" y2="467.5" stroke="#000" stroke-width="1.15" />
<polygon points="695.5,467.5 704.5,465.8 704.5,469.2" fill="#000"/>
<polygon points="849.5,467.5 840.5,465.8 840.5,469.2" fill="#000"/>
<text x="755" y="463" font-family="Liberation Serif, serif" font-size="20" font-weight="normal" text-anchor="start" fill="#000" textLength="34.5" lengthAdjust="spacingAndGlyphs" >24.0</text>
<line x1="631.3" y1="524.3" x2="689.5" y2="524.3" stroke="#000" stroke-width="1.15" />
<line x1="631.3" y1="649.5" x2="689.5" y2="649.5" stroke="#000" stroke-width="1.15" />
<line x1="637.5" y1="524.3" x2="637.5" y2="649.5" stroke="#000" stroke-width="1.15" />
<polygon points="637.5,524.3 635.8,533.3 639.2,533.3" fill="#000"/>
<polygon points="637.5,649.5 635.8,640.5 639.2,640.5" fill="#000"/>
<text x="632.8" y="603" font-family="Liberation Serif, serif" font-size="20" font-weight="normal" text-anchor="start" fill="#000" textLength="33.5" lengthAdjust="spacingAndGlyphs" transform="rotate(-90 632.8 603)" >20.0</text>
<text x="688" y="556.3" font-family="Liberation Serif, serif" font-size="17.5" font-weight="normal" text-anchor="start" fill="#333" >2</text>
<text x="848" y="556.3" font-family="Liberation Serif, serif" font-size="17.5" font-weight="normal" text-anchor="start" fill="#333" >3</text>
<text x="688.5" y="640.3" font-family="Liberation Serif, serif" font-size="17.5" font-weight="normal" text-anchor="start" fill="#333" >1</text>
<text x="847.5" y="640.3" font-family="Liberation Serif, serif" font-size="17.5" font-weight="normal" text-anchor="start" fill="#333" >4</text>
<g transform="translate(0,0)">
<g transform="translate(0,0)">
<path d="M1029.4,172.9 H1056.9 V178.3 M1056.9,178.30 C1070.9,178.80 1070.9,197.30 1056.9,197.80 M1056.9,199.00 C1070.9,199.50 1070.9,216.20 1056.9,216.70 M1056.9,217.90 C1070.9,218.40 1070.9,234.90 1056.9,235.40 M1056.9,236.60 C1070.9,237.10 1070.9,253.70 1056.9,254.20 M1056.9,255.40 C1070.9,255.90 1070.9,275.30 1056.9,275.80 M1056.9,275.8 V280.7 H1029.4" stroke="#000" stroke-width="1.8" fill="none" />
<ellipse cx="1057.6" cy="198.4" rx="5.8" ry="1.55" fill="#ddd" stroke="#000" stroke-width="1.15"/><ellipse cx="1057.6" cy="217.3" rx="5.8" ry="1.55" fill="#ddd" stroke="#000" stroke-width="1.15"/><ellipse cx="1057.6" cy="236.0" rx="5.8" ry="1.55" fill="#ddd" stroke="#000" stroke-width="1.15"/><ellipse cx="1057.6" cy="254.8" rx="5.8" ry="1.55" fill="#ddd" stroke="#000" stroke-width="1.15"/>
<g transform="translate(2158.4,0) scale(-1,1)">
<path d="M1029.4,172.9 H1056.9 V178.3 M1056.9,178.30 C1070.9,178.80 1070.9,197.30 1056.9,197.80 M1056.9,199.00 C1070.9,199.50 1070.9,216.20 1056.9,216.70 M1056.9,217.90 C1070.9,218.40 1070.9,234.90 1056.9,235.40 M1056.9,236.60 C1070.9,237.10 1070.9,253.70 1056.9,254.20 M1056.9,255.40 C1070.9,255.90 1070.9,275.30 1056.9,275.80 M1056.9,275.8 V280.7 H1029.4" stroke="#000" stroke-width="1.8" fill="none" />
<ellipse cx="1057.6" cy="198.4" rx="5.8" ry="1.55" fill="#ddd" stroke="#000" stroke-width="1.15"/><ellipse cx="1057.6" cy="217.3" rx="5.8" ry="1.55" fill="#ddd" stroke="#000" stroke-width="1.15"/><ellipse cx="1057.6" cy="236.0" rx="5.8" ry="1.55" fill="#ddd" stroke="#000" stroke-width="1.15"/><ellipse cx="1057.6" cy="254.8" rx="5.8" ry="1.55" fill="#ddd" stroke="#000" stroke-width="1.15"/>
</g>
<line x1="1076" y1="172.2" x2="1076" y2="281" stroke="#000" stroke-width="2.1" stroke-dasharray="19.4 3.2"/>
<line x1="1082" y1="172.2" x2="1082" y2="281" stroke="#000" stroke-width="2.1" stroke-dasharray="19.4 3.2"/>
<circle cx="1045.6" cy="184.1" r="4.2" fill="#3a3a3a"/><circle cx="1112.6" cy="184.1" r="4.2" fill="#3a3a3a"/>
</g>
<circle cx="1015.5" cy="173" r="13.3" fill="#fff" stroke="#000" stroke-width="1.5"/>
<text x="1015.5" y="180" font-family="Liberation Serif, serif" font-size="21" font-weight="normal" text-anchor="middle" fill="#000" >1</text>
<circle cx="1142.8" cy="173" r="13.3" fill="#fff" stroke="#000" stroke-width="1.5"/>
<text x="1142.8" y="180" font-family="Liberation Serif, serif" font-size="21" font-weight="normal" text-anchor="middle" fill="#000" >4</text>
<circle cx="1015.5" cy="280.7" r="13.3" fill="#fff" stroke="#000" stroke-width="1.5"/>
<text x="1015.5" y="287.7" font-family="Liberation Serif, serif" font-size="21" font-weight="normal" text-anchor="middle" fill="#000" >2</text>
<circle cx="1142.8" cy="280.7" r="13.3" fill="#fff" stroke="#000" stroke-width="1.5"/>
<text x="1142.8" y="287.7" font-family="Liberation Serif, serif" font-size="21" font-weight="normal" text-anchor="middle" fill="#000" >3</text>
<text x="1002.5" y="232.7" font-family="Liberation Serif, serif" font-size="21.5" font-weight="normal" text-anchor="start" fill="#000" textLength="24" lengthAdjust="spacingAndGlyphs" >N1</text>
<text x="1134.5" y="232.7" font-family="Liberation Serif, serif" font-size="21.5" font-weight="normal" text-anchor="start" fill="#000" textLength="25.5" lengthAdjust="spacingAndGlyphs" >N2</text>
<text x="1007.3" y="335.2" font-family="Liberation Serif, serif" font-size="21" font-weight="normal" text-anchor="start" fill="#000" >"</text>
<text x="1051" y="335.2" font-family="Liberation Serif, serif" font-size="21" font-weight="normal" text-anchor="start" fill="#000" >"</text>
<circle cx="1030.1" cy="332.9" r="4.6" fill="#222"/>
<text x="1073.5" y="332" font-family="Liberation Serif, serif" font-size="20" font-weight="normal" text-anchor="start" fill="#000" >:</text>
<text x="1094" y="334.4" font-family="Liberation Serif, serif" font-size="21" font-weight="normal" text-anchor="start" fill="#000" textLength="69.5" lengthAdjust="spacingAndGlyphs" >Polarity</text>
</g>
<g transform="translate(-1,318)">
<g transform="translate(1.0,0)">
<path d="M1028.4,172.9 H1056.9 V178.3 M1056.9,178.30 C1070.9,178.80 1070.9,197.30 1056.9,197.80 M1056.9,199.00 C1070.9,199.50 1070.9,216.20 1056.9,216.70 M1056.9,217.90 C1070.9,218.40 1070.9,234.90 1056.9,235.40 M1056.9,236.60 C1070.9,237.10 1070.9,253.70 1056.9,254.20 M1056.9,255.40 C1070.9,255.90 1070.9,275.30 1056.9,275.80 M1056.9,275.8 V280.7 H1028.4" stroke="#000" stroke-width="1.8" fill="none" />
<ellipse cx="1057.6" cy="198.4" rx="5.8" ry="1.55" fill="#ddd" stroke="#000" stroke-width="1.15"/><ellipse cx="1057.6" cy="217.3" rx="5.8" ry="1.55" fill="#ddd" stroke="#000" stroke-width="1.15"/><ellipse cx="1057.6" cy="236.0" rx="5.8" ry="1.55" fill="#ddd" stroke="#000" stroke-width="1.15"/><ellipse cx="1057.6" cy="254.8" rx="5.8" ry="1.55" fill="#ddd" stroke="#000" stroke-width="1.15"/>
<g transform="translate(2158.4,0) scale(-1,1)">
<path d="M1030.4,172.9 H1056.9 V178.3 M1056.9,178.30 C1070.9,178.80 1070.9,197.30 1056.9,197.80 M1056.9,199.00 C1070.9,199.50 1070.9,216.20 1056.9,216.70 M1056.9,217.90 C1070.9,218.40 1070.9,234.90 1056.9,235.40 M1056.9,236.60 C1070.9,237.10 1070.9,253.70 1056.9,254.20 M1056.9,255.40 C1070.9,255.90 1070.9,275.30 1056.9,275.80 M1056.9,275.8 V280.7 H1030.4" stroke="#000" stroke-width="1.8" fill="none" />
<ellipse cx="1057.6" cy="198.4" rx="5.8" ry="1.55" fill="#ddd" stroke="#000" stroke-width="1.15"/><ellipse cx="1057.6" cy="217.3" rx="5.8" ry="1.55" fill="#ddd" stroke="#000" stroke-width="1.15"/><ellipse cx="1057.6" cy="236.0" rx="5.8" ry="1.55" fill="#ddd" stroke="#000" stroke-width="1.15"/><ellipse cx="1057.6" cy="254.8" rx="5.8" ry="1.55" fill="#ddd" stroke="#000" stroke-width="1.15"/>
</g>
<line x1="1076" y1="172.2" x2="1076" y2="281" stroke="#000" stroke-width="2.1" stroke-dasharray="19.4 3.2"/>
<line x1="1082" y1="172.2" x2="1082" y2="281" stroke="#000" stroke-width="2.1" stroke-dasharray="19.4 3.2"/>
<circle cx="1045.6" cy="184.1" r="4.2" fill="#3a3a3a"/><circle cx="1112.6" cy="184.1" r="4.2" fill="#3a3a3a"/>
</g>
<circle cx="1015.5" cy="173" r="13.3" fill="#fff" stroke="#000" stroke-width="1.5"/>
<text x="1015.5" y="180" font-family="Liberation Serif, serif" font-size="21" font-weight="normal" text-anchor="middle" fill="#000" >1</text>
<circle cx="1142.8" cy="173" r="13.3" fill="#fff" stroke="#000" stroke-width="1.5"/>
<text x="1142.8" y="180" font-family="Liberation Serif, serif" font-size="21" font-weight="normal" text-anchor="middle" fill="#000" >4</text>
<circle cx="1015.5" cy="280.7" r="13.3" fill="#fff" stroke="#000" stroke-width="1.5"/>
<text x="1015.5" y="287.7" font-family="Liberation Serif, serif" font-size="21" font-weight="normal" text-anchor="middle" fill="#000" >2</text>
<circle cx="1142.8" cy="280.7" r="13.3" fill="#fff" stroke="#000" stroke-width="1.5"/>
<text x="1142.8" y="287.7" font-family="Liberation Serif, serif" font-size="21" font-weight="normal" text-anchor="middle" fill="#000" >3</text>
<text x="1002.5" y="232.7" font-family="Liberation Serif, serif" font-size="21.5" font-weight="normal" text-anchor="start" fill="#000" textLength="24" lengthAdjust="spacingAndGlyphs" >N1</text>
<text x="1134.5" y="232.7" font-family="Liberation Serif, serif" font-size="21.5" font-weight="normal" text-anchor="start" fill="#000" textLength="25.5" lengthAdjust="spacingAndGlyphs" >N2</text>
<text x="1007.3" y="335.2" font-family="Liberation Serif, serif" font-size="21" font-weight="normal" text-anchor="start" fill="#000" >"</text>
<text x="1051" y="335.2" font-family="Liberation Serif, serif" font-size="21" font-weight="normal" text-anchor="start" fill="#000" >"</text>
<circle cx="1030.1" cy="332.9" r="4.6" fill="#222"/>
<text x="1073.5" y="332" font-family="Liberation Serif, serif" font-size="20" font-weight="normal" text-anchor="start" fill="#000" >:</text>
<text x="1094" y="334.4" font-family="Liberation Serif, serif" font-size="21" font-weight="normal" text-anchor="start" fill="#000" textLength="69.5" lengthAdjust="spacingAndGlyphs" >Polarity</text>
</g>
</svg>
</body></html>
